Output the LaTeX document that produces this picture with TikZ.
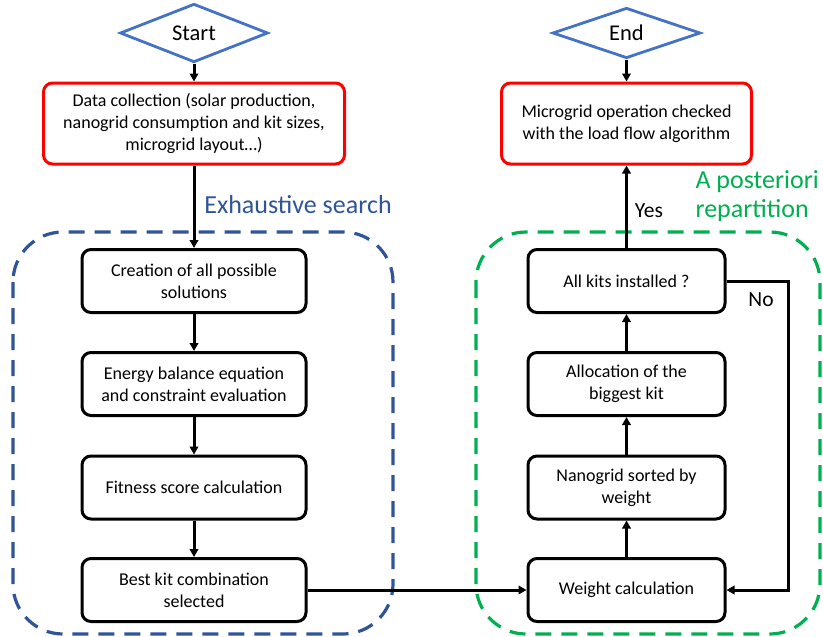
\documentclass[tikz,border=0pt]{standalone}
\usepackage{fontspec}
\setmainfont{Carlito}
\usetikzlibrary{shapes.geometric,arrows.meta}
\definecolor{diablue}{HTML}{4472C4}
\definecolor{dashblue}{HTML}{2F5597}
\definecolor{dgreen}{HTML}{00B050}
\definecolor{bred}{HTML}{FF0000}
\begin{document}
\begin{tikzpicture}[x=1pt,y=-1pt,
  box/.style={draw=black, line width=3pt, rounded corners=9pt, minimum width=224pt, minimum height=63pt, align=center, font=\fontsize{18}{22}\selectfont, inner sep=1pt},
  rbox/.style={box, draw=bred, minimum height=81pt},
  dia/.style={diamond, draw=diablue, line width=2.8pt, minimum width=148pt, minimum height=47pt, inner sep=0pt, font=\fontsize{22.5}{26}\selectfont},
  flow/.style={line width=3pt, -{Triangle[length=8pt,width=8.5pt]}},
  grp/.style={line width=3.2pt, dash pattern=on 16pt off 10pt, rounded corners=50pt},
  lbl/.style={font=\fontsize{21.5}{25}\selectfont},
  ttl/.style={font=\fontsize{26}{29}\selectfont, align=left}]
\useasboundingbox (0,0) rectangle (823,637);
% groups
\draw[grp, draw=dashblue] (13,232) rectangle (393,634);
\draw[grp, draw=dgreen] (476,232) rectangle (820,634);
% left column
\node[dia] (start) at (194,33) {Start};
\node[rbox, minimum width=301pt] (data) at (194,123.5) {Data collection (solar production,\\nanogrid consumption and kit sizes,\\microgrid layout…)};
\node[box] (c1) at (194,281) {Creation of all possible\\solutions};
\node[box] (c2) at (194,384) {Energy balance equation\\and constraint evaluation};
\node[box] (c3) at (194,487.5) {Fitness score calculation};
\node[box] (c4) at (194,590) {Best kit combination\\selected};
% right column
\node[dia] (end) at (626.5,33) {End};
\node[rbox, minimum width=250pt] (mg) at (626.5,123.5) {Microgrid operation checked\\with the load flow algorithm};
\node[box, minimum width=197pt] (k4) at (626.5,281) {All kits installed ?};
\node[box, minimum width=197pt] (k3) at (626.5,384) {Allocation of the\\biggest kit};
\node[box, minimum width=197pt] (k2) at (626.5,487.5) {Nanogrid sorted by\\weight};
\node[box, minimum width=197pt] (k1) at (626.5,590) {Weight calculation};
% titles and labels
\node[ttl, text=dashblue] (t1) at (298,205) {Exhaustive search};
\node[ttl, text=dgreen, anchor=west] (t2) at (692,196) {A posteriori\\repartition};
\node[lbl] (yes) at (649,211) {Yes};
\node[lbl] (no) at (761,300) {No};
% connectors
\draw[flow] (start) -- (data);
\draw[flow] (data) -- (c1);
\draw[flow] (c1) -- (c2);
\draw[flow] (c2) -- (c3);
\draw[flow] (c3) -- (c4);
\draw[flow] (c4) -- (k1);
\draw[flow] (k1) -- (k2);
\draw[flow] (k2) -- (k3);
\draw[flow] (k3) -- (k4);
\draw[flow] (k4) -- (mg);
\draw[flow] (end) -- (mg);
\draw[flow] (k4.east) -- ++(62,0) |- (k1.east);
\end{tikzpicture}
\end{document}
